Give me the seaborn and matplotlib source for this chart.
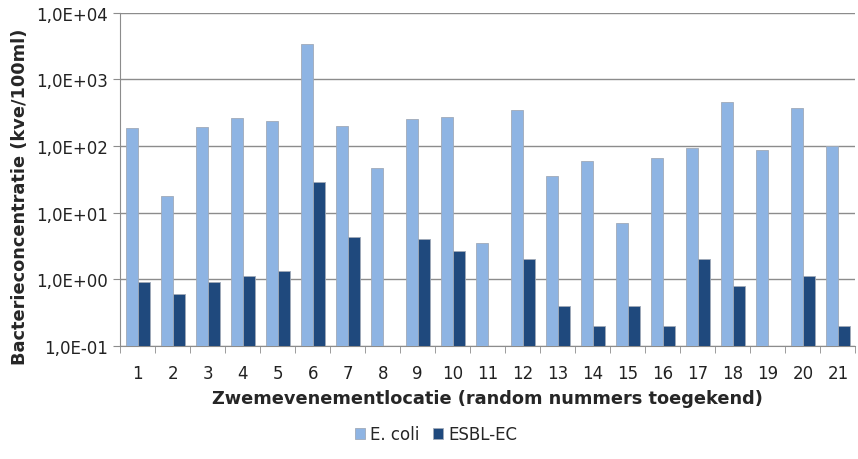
import numpy as np
import pandas as pd
import matplotlib
matplotlib.use("Agg")
import matplotlib.pyplot as plt
import seaborn as sns
from matplotlib.ticker import FixedLocator, FuncFormatter

# values (kve/100ml)
locaties = [str(i) for i in range(1, 22)]
e_coli = [186, 17.5, 195, 262, 237, 3455, 201, 46, 253, 272, 3.5,
          353, 35, 60, 7.0, 66, 92, 455, 86, 374, 100]
esbl_ec = [0.90, 0.60, 0.90, 1.11, 1.35, 28.4, 4.3, np.nan, 4.06, 2.62, np.nan,
           2.0, 0.40, 0.20, 0.40, 0.20, 2.0, 0.79, np.nan, 1.11, 0.20]
series = ["E. coli", "ESBL-EC"]
colors = ["#8EB4E3", "#1F497D"]

df = pd.DataFrame({
    "locatie": locaties * 2,
    "waarde": e_coli + esbl_ec,
    "reeks": [series[0]] * len(locaties) + [series[1]] * len(locaties),
})

sns.set_style("white")
plt.rcParams["font.family"] = ["DejaVu Sans"]

fig = plt.figure(figsize=(8.58, 4.6), dpi=100)
ax = fig.add_axes([0.14, 0.246, 0.857, 0.724])

sns.barplot(data=df, x="locatie", y="waarde", hue="reeks", palette=colors,
            saturation=1, width=0.68, gap=0, edgecolor="#a0aab8", linewidth=0.6,
            ax=ax, zorder=3)
ax.set_yscale("log")
ax.set_ylim(0.1, 1e4)
ax.set_xlim(-0.5, len(locaties) - 0.5)

ax.yaxis.set_major_locator(FixedLocator([1e-1, 1e0, 1e1, 1e2, 1e3, 1e4]))
ax.yaxis.set_minor_locator(FixedLocator([]))
ax.yaxis.set_major_formatter(FuncFormatter(lambda v, p: ("%.1E" % v).replace(".", ",")))
ax.grid(axis="y", color="#8c8c8c", linewidth=1.0, zorder=0)
ax.set_axisbelow(True)

ax.xaxis.set_minor_locator(FixedLocator(np.arange(-0.5, len(locaties), 1)))
ax.tick_params(axis="x", which="major", length=0, pad=13, labelsize=12, colors="#222222")
ax.tick_params(axis="x", which="minor", length=5, direction="out", color="#8c8c8c", bottom=True)
ax.tick_params(axis="y", which="major", length=5, direction="out", color="#8c8c8c",
               left=True, labelsize=12, colors="#222222")

for side in ["top", "right"]:
    ax.spines[side].set_visible(False)
for side in ["left", "bottom"]:
    ax.spines[side].set_color("#8c8c8c")

ax.set_xlabel("Zwemevenementlocatie (random nummers toegekend)",
              fontsize=12.8, fontweight="bold", labelpad=5)
ax.set_ylabel("Bacterieconcentratie (kve/100ml)", fontsize=12.8, fontweight="bold")
ax.yaxis.set_label_coords(-0.124, 0.45)

ax.legend(loc="center", bbox_to_anchor=(0.43, -0.265), ncol=2, frameon=False,
          fontsize=12, handlelength=0.6, handleheight=0.6, handletextpad=0.3,
          columnspacing=0.8)

fig.savefig("out.png", dpi=100)
